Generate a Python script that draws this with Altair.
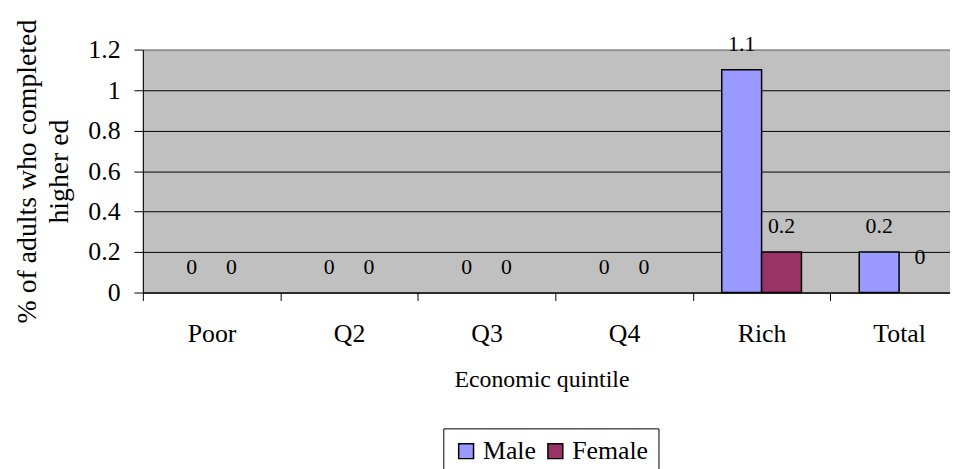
import altair as alt
import pandas as pd

categories = ["Poor", "Q2", "Q3", "Q4", "Rich", "Total"]
series = ["Male", "Female"]
male = [0, 0, 0, 0, 1.1, 0.2]
female = [0, 0, 0, 0, 0.2, 0]
colors = ["#9999FF", "#993366"]
y_ticks = [0, 0.2, 0.4, 0.6, 0.8, 1.0, 1.2]

rows = []
for i, c in enumerate(categories):
    rows.append({"cat": c, "series": "Male", "value": male[i], "label": f"{male[i]:g}"})
    rows.append({"cat": c, "series": "Female", "value": female[i], "label": f"{female[i]:g}"})
df = pd.DataFrame(rows)

FONT = "Liberation Serif"

x_enc = alt.X(
    "cat:N",
    sort=categories,
    scale=alt.Scale(paddingInner=0, paddingOuter=0, range=[0, 832]),
    axis=alt.Axis(
        title="Economic quintile",
        labelAngle=0,
        tickBand="extent",
        tickSize=8,
        tickColor="black",
        domainColor="black",
        labelPadding=20,
        labelFontSize=26,
        titleFontSize=24,
        titlePadding=22,
        titleX=402,
        titleAlign="center",
        grid=False,
    ),
)
xoff = alt.XOffset(
    "series:N",
    sort=series,
    scale=alt.Scale(paddingInner=0, paddingOuter=0.725, align=0.5),
)
y_enc = alt.Y(
    "value:Q",
    scale=alt.Scale(domain=[0, 1.2], nice=False),
    axis=alt.Axis(
        title=["% of adults who completed", "higher ed"],
        values=y_ticks,
        format="~g",
        tickSize=9,
        tickColor="black",
        domainColor="black",
        labelPadding=14,
        labelFontSize=26,
        titleFontSize=28,
        titleLineHeight=33,
        titlePadding=14,
        grid=True,
        gridColor={"condition": {"test": "datum.value >= 1.19", "value": "#808080"}, "value": "black"},
        gridOpacity=1,
    ),
)
color_enc = alt.Color(
    "series:N",
    sort=series,
    scale=alt.Scale(domain=series, range=colors),
    legend=alt.Legend(
        title=None,
        orient="none",
        legendX=303,
        legendY=382,
        direction="horizontal",
        symbolType="square",
        symbolSize=225,
        symbolStrokeColor="black",
        symbolStrokeWidth=1.5,
        symbolOpacity=1,
        labelFontSize=26,
        labelFont=FONT,
        labelColor="black",
        labelOffset=4,
        columnPadding=6,
        padding=10,
        strokeColor="black",
        fillColor="white",
    ),
)

bar_df = df[df["value"] > 0]
bars = alt.Chart(bar_df).mark_bar(stroke="black", strokeWidth=1.5, opacity=1).encode(
    x=x_enc, xOffset=xoff, y=y_enc, color=color_enc
)

normal = df[~((df["cat"] == "Total") & (df["series"] == "Female"))]
odd = df[(df["cat"] == "Total") & (df["series"] == "Female")]

labels = alt.Chart(normal).mark_text(
    baseline="middle", dy=-26, fontSize=22, font=FONT, color="black"
).encode(x=x_enc, xOffset=xoff, y=y_enc, text="label:N")

labels_odd = alt.Chart(odd).mark_text(
    baseline="middle", dy=-36, dx=1, fontSize=22, font=FONT, color="black"
).encode(x=x_enc, xOffset=xoff, y=y_enc, text="label:N")

chart = (
    alt.layer(bars, labels, labels_odd)
    .properties(
        width=814,
        height=245,
        autosize=alt.AutoSizeParams(type="none"),
        padding={"left": 136, "top": 40, "right": 0, "bottom": 176},
        background="white",
    )
    .configure_view(fill="#C0C0C0", stroke="#808080", strokeWidth=1)
    .configure_axis(
        labelFont=FONT,
        titleFont=FONT,
        titleFontWeight="normal",
        labelColor="black",
        titleColor="black",
    )
)

chart.save("out.html", embed_options={"renderer": "svg", "actions": False})
